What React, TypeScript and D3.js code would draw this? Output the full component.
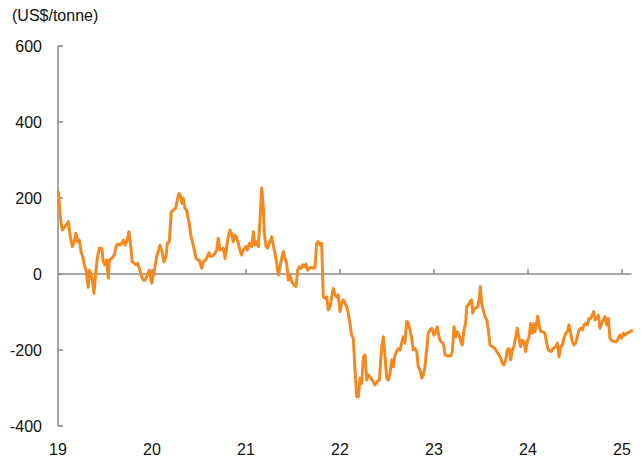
import { FC } from "react";
import * as d3 from "d3";

// years since Jan 2019
const t = [
  0.003, 0.032, 0.046, 0.074, 0.11, 0.128, 0.152, 0.173, 0.191, 0.21, 0.227, 0.245, 0.263, 0.28, 0.298, 0.312,
  0.322, 0.333, 0.348, 0.365, 0.383, 0.401, 0.418, 0.439, 0.465, 0.482, 0.5, 0.518, 0.535, 0.546, 0.571, 0.599,
  0.617, 0.635, 0.66, 0.678, 0.695, 0.713, 0.731, 0.755, 0.773, 0.79, 0.812, 0.83, 0.848, 0.872, 0.89, 0.907,
  0.926, 0.95, 0.971, 0.997, 1.014, 1.032, 1.05, 1.067, 1.085, 1.106, 1.128, 1.149, 1.163, 1.184, 1.205, 1.227,
  1.252, 1.269, 1.287, 1.305, 1.319, 1.333, 1.351, 1.369, 1.38, 1.397, 1.412, 1.429, 1.45, 1.468, 1.486, 1.503,
  1.529, 1.546, 1.571, 1.588, 1.606, 1.624, 1.646, 1.67, 1.688, 1.705, 1.723, 1.741, 1.759, 1.777, 1.795, 1.812,
  1.83, 1.848, 1.865, 1.883, 1.901, 1.918, 1.936, 1.954, 1.971, 1.997, 2.014, 2.035, 2.061, 2.078, 2.096, 2.114,
  2.131, 2.149, 2.167, 2.184, 2.195, 2.213, 2.231, 2.248, 2.273, 2.29, 2.309, 2.327, 2.344, 2.362, 2.38, 2.397,
  2.415, 2.433, 2.45, 2.468, 2.486, 2.514, 2.532, 2.55, 2.567, 2.585, 2.603, 2.62, 2.638, 2.656, 2.673, 2.699,
  2.716, 2.734, 2.752, 2.769, 2.787, 2.805, 2.822, 2.84, 2.858, 2.876, 2.894, 2.912, 2.929, 2.947, 2.965, 2.982,
  3.0, 3.018, 3.035, 3.053, 3.071, 3.088, 3.106, 3.124, 3.141, 3.16, 3.178, 3.195, 3.213, 3.231, 3.248, 3.266,
  3.284, 3.301, 3.319, 3.354, 3.372, 3.397, 3.418, 3.444, 3.461, 3.479, 3.497, 3.514, 3.532, 3.55, 3.567, 3.585,
  3.603, 3.62, 3.638, 3.656, 3.673, 3.691, 3.71, 3.727, 3.745, 3.763, 3.78, 3.798, 3.816, 3.833, 3.851, 3.869,
  3.886, 3.904, 3.922, 3.939, 3.957, 3.975, 4.0, 4.018, 4.035, 4.056, 4.074, 4.093, 4.106, 4.117, 4.152, 4.178,
  4.195, 4.213, 4.231, 4.248, 4.266, 4.284, 4.301, 4.319, 4.337, 4.348, 4.365, 4.383, 4.401, 4.412, 4.429, 4.447,
  4.465, 4.482, 4.493, 4.507, 4.524, 4.543, 4.561, 4.578, 4.596, 4.62, 4.649, 4.667, 4.691, 4.71, 4.727, 4.745,
  4.763, 4.78, 4.798, 4.816, 4.833, 4.851, 4.869, 4.886, 4.904, 4.922, 4.939, 4.957, 4.976, 4.993, 5.011, 5.029,
  5.046, 5.064, 5.074, 5.093, 5.103, 5.117, 5.138, 5.163, 5.181, 5.199, 5.216, 5.245, 5.269, 5.295, 5.312, 5.33,
  5.348, 5.365, 5.383, 5.401, 5.418, 5.436, 5.454, 5.471, 5.489, 5.507, 5.524, 5.543, 5.561, 5.578, 5.596, 5.614,
  5.631, 5.649, 5.667, 5.684, 5.699, 5.713, 5.731, 5.748, 5.766, 5.784, 5.801, 5.819, 5.837, 5.854, 5.872, 5.89,
  5.918, 5.944, 5.961, 5.979, 5.997, 6.014, 6.032, 6.05, 6.074, 6.103,
];

// US$/tonne
const spread = [
  216, 134, 116, 124, 138, 103, 72, 85, 107, 85, 89, 59, 46, 24, 10, -16,
  -35, 10, 2, -16, -51, 2, 41, 68, 68, 32, 24, 37, -11, 37, 41, 50,
  72, 79, 76, 81, 89, 76, 85, 111, 76, 32, 28, 24, 28, 10, -7, -16,
  -16, -3, 10, -24, -3, 19, 46, 59, 76, 59, 32, 46, 81, 85, 164, 168,
  173, 195, 212, 204, 186, 199, 173, 168, 151, 133, 103, 85, 63, 41, 37, 37,
  15, 32, 37, 46, 56, 46, 47, 54, 63, 94, 63, 65, 68, 41, 72, 98,
  116, 103, 85, 103, 94, 81, 63, 50, 63, 72, 63, 81, 72, 111, 76, 85,
  72, 142, 226, 177, 107, 72, 68, 81, 98, 76, 54, 28, -3, 19, 41, 59,
  41, 28, -16, -3, -20, -29, -33, 10, 19, 15, 24, 19, 26, 10, 15, 18,
  15, 18, 81, 85, 76, 81, -60, -64, -60, -95, -86, -60, -38, -55, -60, -55,
  -99, -77, -68, -77, -86, -103, -130, -161, -169, -253, -323, -323, -274, -288, -218, -213,
  -279, -266, -270, -283, -292, -283, -279, -191, -165, -218, -274, -279, -261, -226, -244, -213,
  -204, -196, -200, -182, -165, -182, -125, -130, -147, -169, -200, -196, -204, -244, -253, -274,
  -266, -244, -200, -156, -147, -143, -161, -152, -139, -169, -178, -182, -191, -213, -216, -216,
  -204, -139, -165, -152, -161, -178, -187, -147, -130, -86, -82, -73, -68, -103, -90, -90,
  -86, -64, -33, -77, -95, -112, -121, -147, -187, -191, -196, -204, -213, -222, -235, -239,
  -226, -200, -196, -226, -200, -191, -165, -143, -169, -191, -174, -178, -204, -178, -165, -130,
  -156, -130, -152, -130, -111, -134, -152, -152, -156, -182, -200, -204, -196, -191, -182, -218,
  -191, -187, -169, -156, -152, -134, -156, -178, -187, -182, -165, -147, -143, -147, -134, -130,
  -134, -117, -117, -108, -99, -121, -117, -108, -143, -130, -121, -112, -134, -117, -169, -175,
  -178, -178, -169, -161, -169, -156, -161, -156, -154, -149,
];

const yearTicks = [0, 1, 2, 3, 4, 5, 6];
const yearLabels = ["19", "20", "21", "22", "23", "24", "25"];
const valueTicks = [600, 400, 200, 0, -200, -400];
const unitLabel = "(US$/tonne)";

const width = 641;
const height = 459;
const axisColor = "#8a8a8a";
const lineColor = "#f5891f";
const font = "'Liberation Sans', Arial, sans-serif";

const x = d3.scaleLinear().domain([0, 6]).range([58, 622]);
const y = d3.scaleLinear().domain([-400, 600]).range([426, 46]);

const App: FC = () => {
  const data = t.map((d, i) => ({ t: d, v: spread[i] }));
  const line = d3
    .line<{ t: number; v: number }>()
    .x((d) => x(d.t))
    .y((d) => y(d.v));

  return (
    <svg
      width={width}
      height={height}
      style={{ position: "absolute", left: 0, top: 0, background: "#fff" }}
    >
      <text x={12} y={21} fontFamily={font} fontSize={16} fill="#111">
        {unitLabel}
      </text>

      {/* y axis */}
      <line x1={x(0)} x2={x(0)} y1={y(600)} y2={y(-400)} stroke={axisColor} strokeWidth={1.5} />
      {valueTicks.map((v) => (
        <g key={v}>
          <line x1={x(0)} x2={x(0) + 5} y1={y(v)} y2={y(v)} stroke={axisColor} strokeWidth={1.5} />
          <text
            x={42}
            y={y(v) + 6}
            textAnchor="end"
            fontFamily={font}
            fontSize={16}
            fill="#111"
          >
            {v}
          </text>
        </g>
      ))}

      {/* zero line with year ticks */}
      <line x1={x(0)} x2={x(6.1)} y1={y(0)} y2={y(0)} stroke={axisColor} strokeWidth={1.5} />
      {yearTicks.map((d, i) => (
        <g key={d}>
          {i > 0 && (
            <line x1={x(d)} x2={x(d)} y1={y(0)} y2={y(0) - 5} stroke={axisColor} strokeWidth={1.5} />
          )}
          <text
            x={x(d)}
            y={455}
            textAnchor="middle"
            fontFamily={font}
            fontSize={16}
            fill="#111"
          >
            {yearLabels[i]}
          </text>
        </g>
      ))}

      <path
        d={line(data) ?? ""}
        fill="none"
        stroke={lineColor}
        strokeWidth={3}
        strokeLinejoin="round"
        strokeLinecap="round"
      />
    </svg>
  );
};

export default App;
